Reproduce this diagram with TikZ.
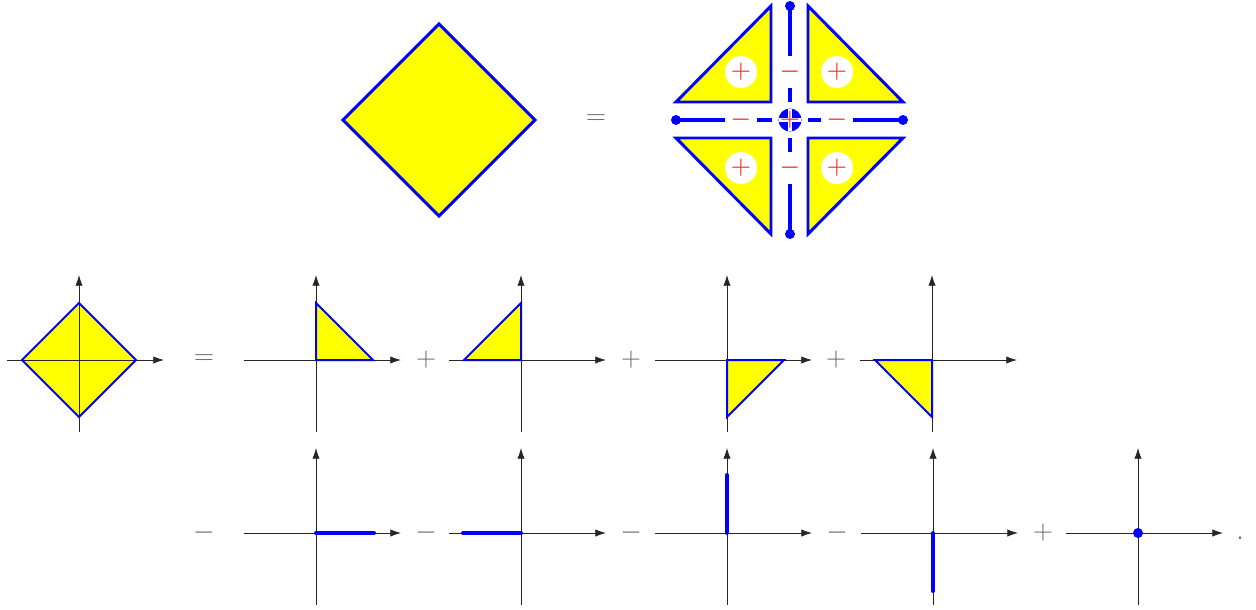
\documentclass[tikz,border=0pt]{standalone}
\usetikzlibrary{arrows.meta,calc}
\definecolor{yel}{RGB}{255,255,0}
\definecolor{bl}{RGB}{0,0,255}
\definecolor{sred}{RGB}{238,70,70}
\begin{document}
\begin{tikzpicture}[x=0.75pt,y=-0.75pt,
 axis/.style={draw=black!85,line width=0.6pt,-{Latex[length=8pt,width=5.5pt]}},
 bigfill/.style={fill=yel},
 bigline/.style={draw=bl,line width=2.2pt},
 smallline/.style={draw=bl,line width=1.5pt},
 seg/.style={draw=bl,line width=3pt},
 sign/.style={text=black!60,font=\fontsize{20}{24}\selectfont,inner sep=0pt},
 badge/.style={circle,fill=white,text=sred,inner sep=0pt,minimum size=24pt,font=\boldmath\fontsize{18}{21}\selectfont}]
\useasboundingbox (0,0) rectangle (1256,610);

% ---------- top: big diamond ----------
\coordinate (dt) at (439,24);
\coordinate (dr) at (535,120);
\coordinate (db) at (439,216);
\coordinate (dl) at (343,120);
\filldraw[bigfill,bigline] (dt) -- (dr) -- (db) -- (dl) -- cycle;
\node[sign] (eqtop) at (596,120) {$=$};

% ---------- top: decomposition ----------
\coordinate (c) at (790,120);
\filldraw[bigfill,bigline] (676,102) -- (771,102) -- (771,6) -- cycle;
\filldraw[bigfill,bigline] (808,6) -- (808,102) -- (903,102) -- cycle;
\filldraw[bigfill,bigline] (676,138) -- (771,138) -- (771,234) -- cycle;
\filldraw[bigfill,bigline] (808,138) -- (903,138) -- (808,234) -- cycle;

\coordinate (eL) at (676,120);
\coordinate (eR) at (903,120);
\coordinate (eT) at (790,6);
\coordinate (eB) at (790,234);
\draw[seg] (eL) -- (772,120);
\draw[seg] (808,120) -- (eR);
\draw[seg] (eT) -- (790,102);
\draw[seg] (790,138) -- (eB);
\foreach \p in {eL,eR,eT,eB} \fill[bl] (\p) circle[radius=5];

\node[badge] (pUL) at (741,72) {$+$};
\node[badge] (pUR) at (837,72) {$+$};
\node[badge] (pLL) at (741,168) {$+$};
\node[badge] (pLR) at (837,168) {$+$};
\node[badge] (mT) at (790,72) {$-$};
\node[badge] (mB) at (790,168) {$-$};
\node[badge] (mL) at (741,120) {$-$};
\node[badge] (mR) at (837,120) {$-$};

\fill[bl] (c) circle[radius=11.5];
\draw[white,line width=2.6pt] (779,120) -- (801,120) (790,109) -- (790,131);
\node[text=sred,inner sep=0pt,font=\boldmath\fontsize{19}{22}\selectfont] (pc) at (c) {$+$};

% ---------- row 1 ----------
\coordinate (a0) at (79,360);
\coordinate (a1) at (316,360);
\coordinate (a2) at (521,360);
\coordinate (a3) at (727,360);
\coordinate (a4) at (932,360);

\fill[bigfill] ($(a0)+(0,-57)$) -- ($(a0)+(57,0)$) -- ($(a0)+(0,57)$) -- ($(a0)+(-57,0)$) -- cycle;
\fill[bigfill] ($(a1)+(0,-57)$) -- ($(a1)+(57,0)$) -- (a1) -- cycle;
\fill[bigfill] ($(a2)+(-57,0)$) -- (a2) -- ($(a2)+(0,-57)$) -- cycle;
\fill[bigfill] (a3) -- ($(a3)+(57,0)$) -- ($(a3)+(0,57)$) -- cycle;
\fill[bigfill] ($(a4)+(-57,0)$) -- (a4) -- ($(a4)+(0,57)$) -- cycle;

\foreach \o in {a0,a1,a2,a3,a4} {
  \draw[axis] ($(\o)+(-72,0)$) -- ($(\o)+(85,0)$);
  \draw[axis] ($(\o)+(0,72)$) -- ($(\o)+(0,-85)$);
}

\draw[smallline] ($(a0)+(0,-57)$) -- ($(a0)+(57,0)$) -- ($(a0)+(0,57)$) -- ($(a0)+(-57,0)$) -- cycle;
\draw[smallline] ($(a1)+(0,-57)$) -- ($(a1)+(57,0)$) -- (a1) -- cycle;
\draw[smallline] ($(a2)+(-57,0)$) -- (a2) -- ($(a2)+(0,-57)$) -- cycle;
\draw[smallline] (a3) -- ($(a3)+(57,0)$) -- ($(a3)+(0,57)$) -- cycle;
\draw[smallline] ($(a4)+(-57,0)$) -- (a4) -- ($(a4)+(0,57)$) -- cycle;

\node[sign] (eq1) at (204,360) {$=$};
\node[sign] (p1) at (426,360) {$+$};
\node[sign] (p2) at (631,360) {$+$};
\node[sign] (p3) at (836,360) {$+$};

% ---------- row 2 ----------
\coordinate (b1) at (316,533);
\coordinate (b2) at (521,533);
\coordinate (b3) at (727,533);
\coordinate (b4) at (933,533);
\coordinate (b5) at (1138,533);
\foreach \o in {b1,b2,b3,b4,b5} {
  \draw[axis] ($(\o)+(-72,0)$) -- ($(\o)+(85,0)$);
  \draw[axis] ($(\o)+(0,72)$) -- ($(\o)+(0,-85)$);
}
\draw[seg,line cap=round] (b1) -- ($(b1)+(58,0)$);
\draw[seg,line cap=round] ($(b2)+(-58,0)$) -- (b2);
\draw[seg,line cap=round] (b3) -- ($(b3)+(0,-58)$);
\draw[seg,line cap=round] (b4) -- ($(b4)+(0,58)$);
\fill[bl] (b5) circle[radius=5];

\node[sign] (m0) at (204,533) {$-$};
\node[sign] (m1) at (426,533) {$-$};
\node[sign] (m2) at (631,533) {$-$};
\node[sign] (m3) at (837,533) {$-$};
\node[sign] (p4) at (1043,533) {$+$};
\node[sign,anchor=base] (dot) at (1240,539) {$.$};
\end{tikzpicture}
\end{document}
